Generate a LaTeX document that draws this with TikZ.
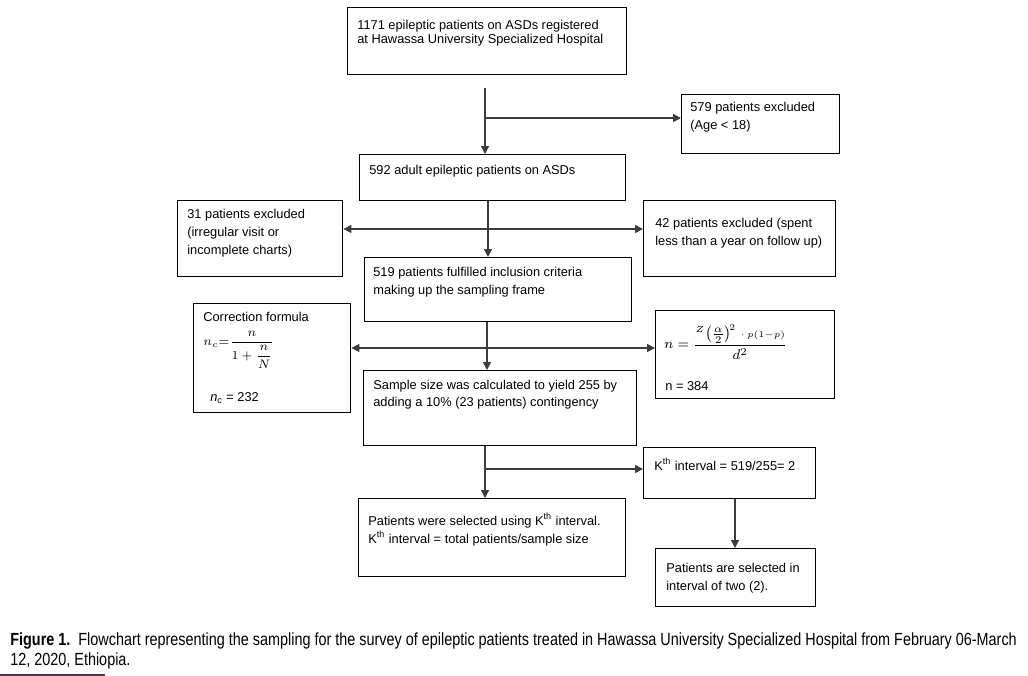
\documentclass[tikz,border=0pt]{standalone}
\usepackage{amsmath, amssymb}
\usepackage{fontspec}
\setmainfont{Liberation Sans}
\newfontfamily\capfont[FakeStretch=0.82]{Liberation Sans}
\usepackage{xcolor}
\usepackage{tikz}
\usetikzlibrary{calc, arrows.meta, positioning}

\definecolor{linkgray}{RGB}{60,60,60}
\definecolor{rulepurple}{RGB}{70,50,90}

\tikzset{
    box/.style={draw, line width=0.8pt, anchor=north west, inner sep=0pt},
    txt/.style={anchor=north west, align=left, inner sep=0pt,
        font=\fontsize{7.3}{10.2}\selectfont},
    link/.style={draw=linkgray, line width=0.8pt},
    arr/.style={link, -{Triangle[length=4.5pt, width=4.5pt]}},
    arrboth/.style={link, {Triangle[length=4.5pt, width=4.5pt]}-{Triangle[length=4.5pt, width=4.5pt]}}
}

\begin{document}
\begin{tikzpicture}[x=0.02cm, y=-0.02cm]

    % khung trang
    \fill[white] (0,0) rectangle (1028,676);
    \useasboundingbox (0,0) rectangle (1028,676);

    % =================================================================
    % CỘT GIỮA: CÁC BƯỚC CHÍNH
    % =================================================================
    \node[box, minimum width=5.58cm, minimum height=1.34cm] (reg) at (347,7) {};
    \node[txt, font=\fontsize{7.3}{8.1}\selectfont] (regT) at (357,20)
        {1171 epileptic patients on ASDs registered\\at Hawassa University Specialized Hospital};

    \node[box, minimum width=5.32cm, minimum height=0.92cm] (adult) at (359,154) {};
    \node[txt] (adultT) at (369,165) {592 adult epileptic patients on ASDs};

    \node[box, minimum width=5.34cm, minimum height=1.28cm] (frame) at (364,257) {};
    \node[txt] (frameT) at (373,267)
        {519 patients fulfilled inclusion criteria\\making up the sampling frame};

    \node[box, minimum width=5.46cm, minimum height=1.50cm] (sample) at (363,370) {};
    \node[txt, font=\fontsize{7.3}{9.6}\selectfont] (sampleT) at (373,380)
        {Sample size was calculated to yield 255 by\\adding a 10\% (23 patients) contingency};

    \node[box, minimum width=5.34cm, minimum height=1.56cm] (select) at (358,498) {};
    \node[txt] (selectT) at (368,513)
        {Patients were selected using K\textsuperscript{th} interval.\\K\textsuperscript{th} interval = total patients/sample size};

    % =================================================================
    % CÁC HỘP BÊN TRÁI
    % =================================================================
    \node[box, minimum width=3.30cm, minimum height=1.52cm] (exIrr) at (177,200) {};
    \node[txt] (exIrrT) at (187,209)
        {31 patients excluded\\(irregular visit or\\incomplete charts)};

    \node[box, minimum width=3.14cm, minimum height=2.18cm] (corr) at (193,303) {};
    \node[txt] (corrT) at (203,312) {Correction formula};
    \node[anchor=west, inner sep=0pt, font=\fontsize{7}{8}\selectfont] (corrF) at (203,350)
        {$\displaystyle n_{c}{=}\frac{n}{1+\dfrac{n}{N}}$};
    \node[txt] (corrV) at (210,392) {\textit{n}\textsubscript{c} = 232};

    % =================================================================
    % CÁC HỘP BÊN PHẢI
    % =================================================================
    \node[box, minimum width=3.16cm, minimum height=1.18cm] (exAge) at (681,94) {};
    \node[txt] (exAgeT) at (690,102) {579 patients excluded\\(Age < 18)};

    \node[box, minimum width=3.84cm, minimum height=1.52cm] (exFol) at (643,200) {};
    \node[txt] (exFolT) at (655,218)
        {42 patients excluded (spent\\less than a year on follow up)};

    \node[box, minimum width=3.58cm, minimum height=1.76cm] (nform) at (655,310) {};
    \node[anchor=west, inner sep=0pt, font=\fontsize{8}{9}\selectfont] (nformF) at (664,342)
        {$n=\dfrac{{}^{\scriptscriptstyle Z}\!\left(\frac{\alpha}{2}\right)^{\!\scriptscriptstyle 2}{\scriptscriptstyle\,\cdot\,p(1-p)}}{d^{2}}$};
    \node[txt] (nformV) at (665,381) {n = 384};

    \node[box, minimum width=3.44cm, minimum height=1.02cm] (kth) at (643,447) {};
    \node[txt] (kthT) at (654,458) {K\textsuperscript{th} interval = 519/255= 2};

    \node[box, minimum width=3.20cm, minimum height=1.16cm] (two) at (655,548) {};
    \node[txt] (twoT) at (666,563) {Patients are selected in\\interval of two (2).};

    % =================================================================
    % MŨI TÊN NỐI
    % =================================================================
    % bước 1 -> 2, loại theo tuổi
    \coordinate (s1) at (485,88);
    \coordinate (j1) at (485,118);
    \draw[link] (s1) -- (j1);
    \draw[arr] (j1) -- (j1 |- adult.north);
    \draw[arr] (j1) -- (j1 -| exAge.west);

    % bước 2 -> 3, hai nhánh loại
    \coordinate (j2) at (488,229);
    \draw[arr] (adult.south -| j2) -- (j2 |- frame.north);
    \draw[arrboth] (exIrr.east |- j2) -- (exFol.west |- j2);

    % bước 3 -> 4, hai công thức
    \coordinate (j3) at (487,348);
    \draw[arr] (frame.south -| j3) -- (j3 |- sample.north);
    \draw[arrboth] (corr.east |- j3) -- (nform.west |- j3);

    % bước 4 -> 5, khoảng K
    \coordinate (j4) at (485,469);
    \draw[arr] (sample.south -| j4) -- (j4 |- select.north);
    \draw[arr] (j4) -- (j4 -| kth.west);

    \coordinate (j5) at (735,498);
    \draw[arr] (kth.south -| j5) -- (j5 |- two.north);

    % =================================================================
    % CHÚ THÍCH HÌNH
    % =================================================================
    \node[anchor=north west, align=left, inner sep=0pt,
          font=\capfont\fontsize{10}{11.4}\selectfont] (caption) at (10,632)
        {\textbf{Figure 1.}\ \ Flowchart representing the sampling for the survey of epileptic patients treated in Hawassa University Specialized Hospital from February 06-March\\12, 2020, Ethiopia.};
    \draw[rulepurple, line width=1.2pt] (0,675) -- (105,675);

\end{tikzpicture}
\end{document}
